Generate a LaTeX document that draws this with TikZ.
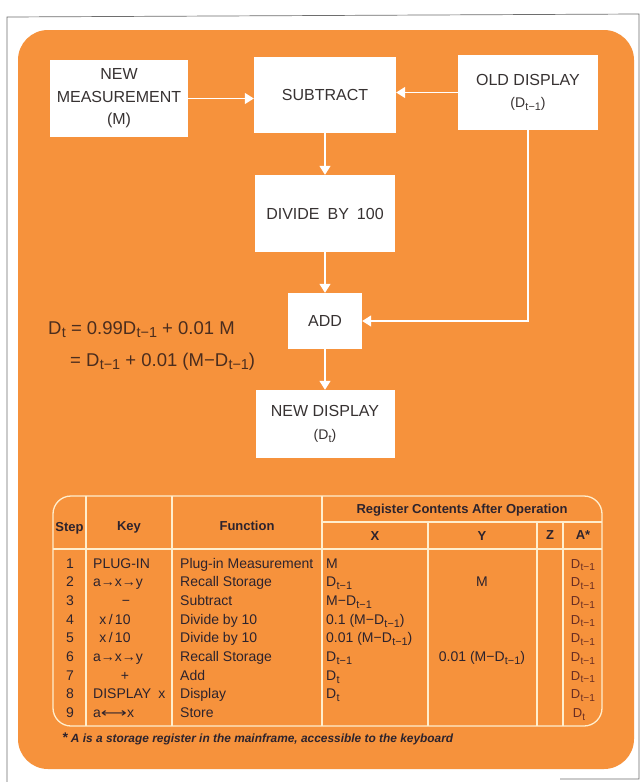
\documentclass[tikz,border=0pt]{standalone}
\usepackage{fontspec}
\setmainfont{Liberation Sans}
\newfontfamily\symf{DejaVu Sans}
\usetikzlibrary{arrows.meta}
\definecolor{org}{RGB}{246,146,60}
\definecolor{ink}{RGB}{55,50,50}
\definecolor{tink}{RGB}{45,35,45}
\definecolor{aink}{RGB}{105,45,35}
\definecolor{eink}{RGB}{75,45,30}
\definecolor{cream}{RGB}{255,238,205}
\definecolor{framec}{RGB}{110,110,110}
\newcommand{\sbs}[1]{\kern0.3pt\raisebox{-0.4ex}{\scalebox{0.78}{#1}}}
\newcommand{\Dm}{D\sbs{t−1}}
\newcommand{\Dt}{D\sbs{t}}
\begin{document}
\begin{tikzpicture}[x=1pt,y=-1pt,
  box/.style={fill=white, draw=none, align=center, text=ink, inner sep=0pt,
    font=\fontsize{16}{22.5}\selectfont},
  flow/.style={draw=white, line width=1.4pt, -{Triangle[length=9pt,width=11pt]}},
  tline/.style={draw=cream, line width=1.3pt},
  hd/.style={font=\bfseries\fontsize{13}{15}\selectfont, text=tink, inner sep=0pt, anchor=center},
  td/.style={font=\fontsize{14}{16}\selectfont, text=tink, inner sep=0pt, anchor=base west},
  tc/.style={font=\fontsize{14}{16}\selectfont, text=tink, inner sep=0pt, anchor=base},
  ta/.style={font=\fontsize{13}{15}\selectfont, text=aink, inner sep=0pt, anchor=base},
  eq/.style={font=\fontsize{18.5}{21}\selectfont, text=eink, inner sep=0pt, anchor=base west},
  note/.style={font=\bfseries\itshape\fontsize{11.9}{13}\selectfont, text=tink, inner sep=0pt, anchor=base west}
]
\useasboundingbox (0,0) rectangle (642,782);
\fill[white] (0,0) rectangle (642,782);
% scan frame
\draw[framec, line width=0.7pt] (7,782) -- (7,17) -- (639,14) -- (639,779) -- (560,779);
% orange panel
\fill[org, rounded corners=30pt] (18,30) rectangle (634,769);

% flow boxes
\node[box, minimum width=138pt, minimum height=77pt] (nm) at (119,98.5) {NEW\\MEASUREMENT\\(M)};
\node[box, minimum width=142pt, minimum height=76pt] (sub) at (325,95) {SUBTRACT};
\node[box, minimum width=140pt, minimum height=75pt] (old) at (528,92.5)
  {OLD DISPLAY\\{\fontsize{14}{16}\selectfont(\Dm)}};
\node[box, minimum width=140pt, minimum height=77pt] (div) at (325,213.5) {DIVIDE\enspace BY\enspace 100};
\node[box, minimum width=74pt, minimum height=56pt] (add) at (325,321) {ADD};
\node[box, minimum width=139pt, minimum height=68pt] (nd) at (325,424)
  {NEW DISPLAY\\{\fontsize{14}{16}\selectfont(\Dt)}};

% connectors
\draw[flow] (nm.east) -- (nm.east -| sub.west);
\draw[flow] (old.west) -- (old.west -| sub.east);
\draw[flow] (sub.south) -- (div.north);
\draw[flow] (div.south) -- (add.north);
\draw[flow] (old.south) |- (add.east);
\draw[flow] (add.south) -- (nd.north);

% equation
\node[eq] (eq1) at (48,334) {\Dt\ = 0.99\Dm\ + 0.01 M};
\node[eq] (eq2) at (70,366) {= \Dm\ + 0.01 (M−\Dm)};

% table frame
\draw[tline, rounded corners=18pt] (53,496) rectangle (602,726);
\draw[tline] (86,496) -- (86,726);
\draw[tline] (172,496) -- (172,726);
\draw[tline] (322,496) -- (322,726);
\draw[tline] (53,549) -- (602,549);
\draw[tline] (322,522) -- (602,522);
\draw[tline] (428,522) -- (428,726);
\draw[tline] (537,522) -- (537,726);
\draw[tline] (563,522) -- (563,726);

% table header
\node[hd] (hstep) at (69.5,528) {Step};
\node[hd] (hkey) at (129,527) {Key};
\node[hd] (hfun) at (247,526) {Function};
\node[hd] (hreg) at (462,510) {Register Contents After Operation};
\node[hd] (hx) at (375,536) {X};
\node[hd] (hy) at (482,536) {Y};
\node[hd] (hz) at (550,535) {Z};
\node[hd] (ha) at (583,535) {A*};

% step numbers
\foreach \i in {1,...,9} {
  \node[tc] (s\i) at (70,{568+(\i-1)*18.7}) {\i};
}
% keys
\node[td] (k1) at (93,568) {PLUG-IN};
\node[td] (k2) at (93,586.7) {a→x→y};
\node[tc] (k3) at (126,605.4) {−};
\node[tc] (k4) at (115,624.1) {x\,/\,10};
\node[tc] (k5) at (115,642.8) {x\,/\,10};
\node[td] (k6) at (93,661.5) {a→x→y};
\node[tc] (k7) at (125,680.2) {+};
\node[td] (k8) at (93,698.9) {DISPLAY\enspace x};
\node[td] (k9) at (93,717.6) {a{\symf\fontsize{13}{15}\selectfont\scalebox{1.4}[1]{⟷}}x};
% functions
\node[td] (f1) at (180,568) {Plug-in Measurement};
\node[td] (f2) at (180,586.7) {Recall Storage};
\node[td] (f3) at (180,605.4) {Subtract};
\node[td] (f4) at (180,624.1) {Divide by 10};
\node[td] (f5) at (180,642.8) {Divide by 10};
\node[td] (f6) at (180,661.5) {Recall Storage};
\node[td] (f7) at (180,680.2) {Add};
\node[td] (f8) at (180,698.9) {Display};
\node[td] (f9) at (180,717.6) {Store};
% X register
\node[td] (x1) at (326,568) {M};
\node[td] (x2) at (326,586.7) {\Dm};
\node[td] (x3) at (326,605.4) {M−\Dm};
\node[td] (x4) at (326,624.1) {0.1 (M−\Dm)};
\node[td] (x5) at (326,642.8) {0.01 (M−\Dm)};
\node[td] (x6) at (326,661.5) {\Dm};
\node[td] (x7) at (326,680.2) {\Dt};
\node[td] (x8) at (326,698.9) {\Dt};
% Y register
\node[tc] (y2) at (482,586.7) {M};
\node[tc] (y6) at (482,661.5) {0.01 (M−\Dm)};
% A register
\foreach \i in {1,...,8} {
  \node[ta] (a\i) at (583,{568+(\i-1)*18.7}) {\Dm};
}
\node[ta] (a9) at (579,717.6) {\Dt};

% footnote
\node[note] (fn) at (62,742) {{\fontsize{14}{12}\selectfont *} A is a storage register in the mainframe, accessible to the keyboard};
\end{tikzpicture}
\end{document}
